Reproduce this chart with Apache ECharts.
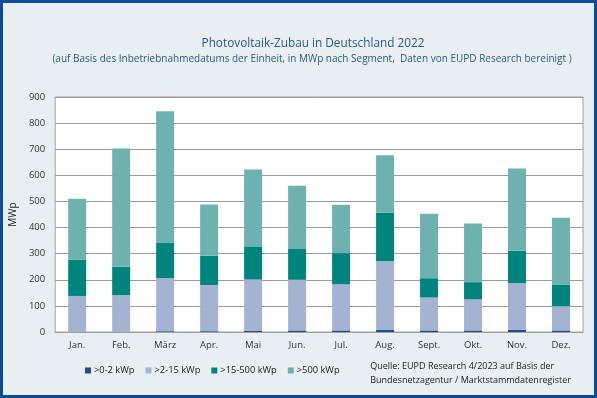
<!DOCTYPE html>
<html>
<head>
<meta charset="utf-8">
<script src="https://cdn.jsdelivr.net/npm/echarts@6/dist/echarts.min.js"></script>
<style>
  html, body { margin: 0; padding: 0; }
  #main { width: 597px; height: 398px; }
</style>
</head>
<body>
<div id="main"></div>
<script>
// Monate
var months = ['Jan.', 'Feb.', 'März', 'Apr.', 'Mai', 'Jun.', 'Jul.', 'Aug.', 'Sept.', 'Okt.', 'Nov.', 'Dez.'];
// Zubau je Segment in MWp
var seg0to2 = [1, 1, 3, 3, 4, 6, 6, 8, 6, 6, 9, 6];
var seg2to15 = [137, 140, 203, 177, 197, 194, 177, 263, 126, 119, 178, 93];
var seg15to500 = [139, 109, 137, 112, 127, 118, 119, 186, 74, 66, 124, 83];
var seg500 = [233, 453, 502, 196, 294, 242, 185, 220, 247, 225, 315, 256];
var yTicks = [0, 100, 200, 300, 400, 500, 600, 700, 800, 900];

var colors = ['#1d4f8f', '#a5b3d3', '#00847e', '#6eb2b0'];
var titleColor = '#2a5d80';

var myChart = echarts.init(document.getElementById('main'));

function bar(name, data, color) {
    return {
        name: name,
        type: 'bar',
        stack: 'total',
        barWidth: 18,
        data: data,
        itemStyle: { color: color }
    };
}

myChart.setOption({
    backgroundColor: '#e9eef3',
    animation: false,
    graphic: [{
        type: 'rect',
        shape: { x: 1.5, y: 1.5, width: 594, height: 395 },
        style: { fill: null, stroke: '#0b4d9c', lineWidth: 3 },
        silent: true
    }, {
        type: 'text',
        x: 313, y: 38,
        style: {
            text: 'Photovoltaik-Zubau in Deutschland 2022',
            align: 'center',
            fontFamily: 'Open Sans', fontSize: 11.8, fill: titleColor
        }
    }, {
        type: 'text',
        x: 312, y: 54,
        style: {
            text: '(auf Basis des Inbetriebnahmedatums der Einheit, in MWp nach Segment,  Daten von EUPD Research bereinigt )',
            align: 'center',
            fontFamily: 'Open Sans', fontSize: 10, fill: titleColor
        }
    }, {
        type: 'text',
        right: 26, top: 359,
        style: {
            text: 'Quelle: EUPD Research 4/2023 auf Basis der\nBundesnetzagentur / Marktstammdatenregister',
            align: 'right',
            fontFamily: 'Open Sans', fontSize: 9, lineHeight: 14, fill: '#222'
        }
    }],
    legend: {
        left: 80, top: 361,
        itemWidth: 6, itemHeight: 6, itemGap: 11,
        icon: 'rect',
        textStyle: { fontFamily: 'Open Sans', fontSize: 9.3, color: '#222', padding: [0, 0, 0, -2] },
        data: ['>0-2 kWp', '>2-15 kWp', '>15-500 kWp', '>500 kWp']
    },
    grid: {
        left: 47, right: 14, top: 97, bottom: 66,
        show: true, backgroundColor: '#fff', borderColor: '#a0a0a0', borderWidth: 1
    },
    xAxis: {
        type: 'category',
        data: months,
        axisLine: { lineStyle: { color: '#a0a0a0' } },
        axisTick: { show: false },
        axisLabel: { fontFamily: 'Open Sans', fontSize: 9.5, color: '#333', margin: 8 }
    },
    yAxis: {
        type: 'value',
        min: yTicks[0], max: yTicks[yTicks.length - 1], interval: 100,
        name: 'MWp', nameLocation: 'middle', nameGap: 28, nameRotate: 90,
        nameTextStyle: { fontFamily: 'Open Sans', fontSize: 10, color: '#222' },
        axisLine: { show: false },
        axisTick: { show: false },
        splitLine: { lineStyle: { color: '#9a9a9a' } },
        axisLabel: { fontFamily: 'Open Sans', fontSize: 9.5, color: '#333', margin: 10 }
    },
    series: [
        bar('>0-2 kWp', seg0to2, colors[0]),
        bar('>2-15 kWp', seg2to15, colors[1]),
        bar('>15-500 kWp', seg15to500, colors[2]),
        bar('>500 kWp', seg500, colors[3])
    ]
});
</script>
</body>
</html>
